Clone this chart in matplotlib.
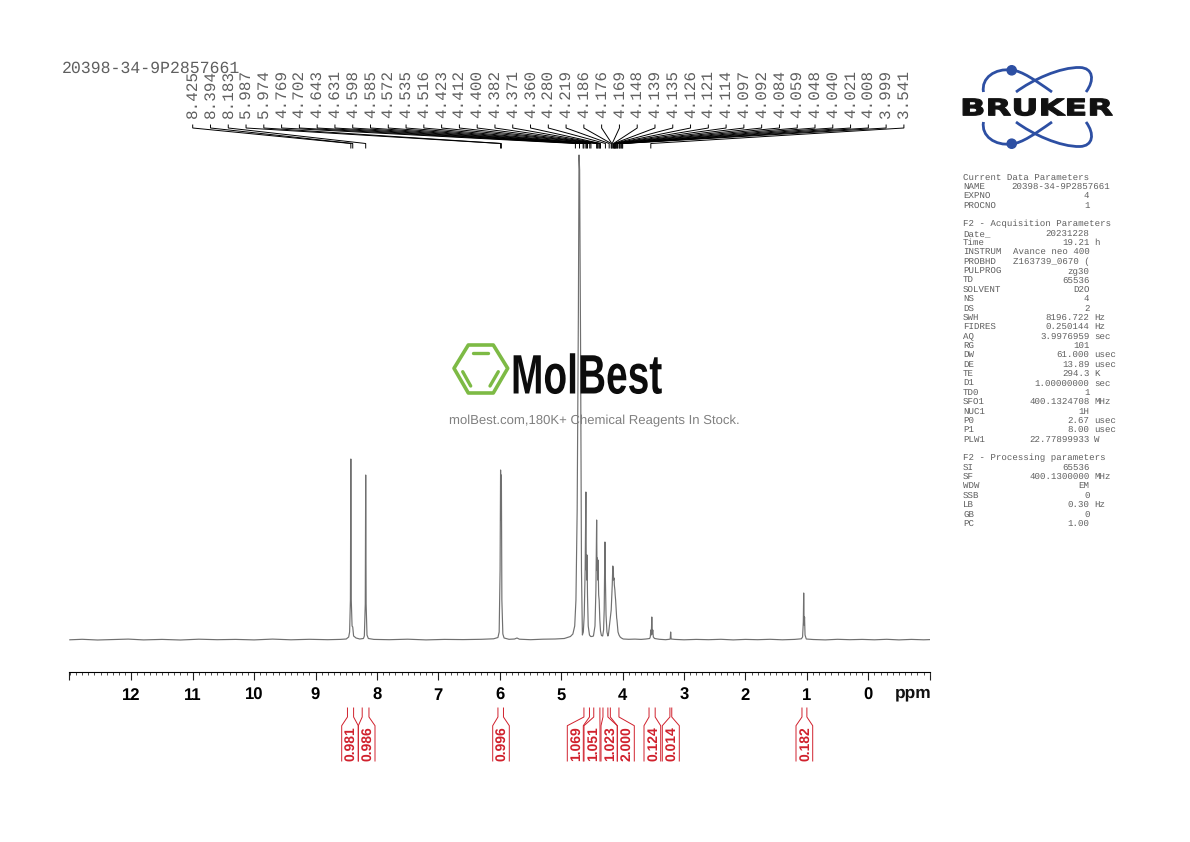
#!/usr/bin/env python3
# 1H NMR spectrum page (TopSpin style) with peak picking, integrals and parameter block
import matplotlib
matplotlib.use("Agg")
import matplotlib.pyplot as plt
from matplotlib.patches import Circle, PathPatch, Polygon
from matplotlib.path import Path
from matplotlib.patheffects import AbstractPathEffect
from matplotlib.ticker import MultipleLocator
from matplotlib.transforms import Affine2D

plt.rcParams["text.hinting"] = "no_hinting"

sample_name = "20398-34-9P2857661"

# spectrum trace: ppm and height above baseline
trace_ppm = [13.0, 12.8, 12.55, 12.3, 12.05, 11.8, 11.5, 11.2, 10.9, 10.6, 10.3, 10.0, 9.7, 9.4, 9.1, 8.8, 8.6,
             8.5, 8.46, 8.445, 8.432, 8.425, 8.418, 8.405, 8.394, 8.38, 8.34, 8.28, 8.22, 8.205, 8.19, 8.183, 8.176, 8.162, 8.14,
             8.05, 7.8, 7.5, 7.2, 6.9, 6.6, 6.3, 6.1,
             6.03, 6.01, 5.995, 5.987, 5.981, 5.974, 5.966, 5.95, 5.93,
             5.85, 5.76, 5.72, 5.68, 5.5, 5.3, 5.1, 4.95, 4.85, 4.81, 4.78, 4.76, 4.74, 4.72, 4.71, 4.70, 4.685,
             4.67, 4.655, 4.64, 4.625, 4.61, 4.598, 4.592, 4.588, 4.585, 4.579, 4.572, 4.56, 4.54, 4.52, 4.50, 4.475, 4.45,
             4.435, 4.423, 4.417, 4.412, 4.406, 4.40, 4.39, 4.382, 4.371, 4.36, 4.345, 4.325, 4.31, 4.30, 4.295, 4.288,
             4.28, 4.27, 4.255, 4.24, 4.23, 4.219, 4.205, 4.195, 4.186, 4.176, 4.169, 4.16, 4.15, 4.148, 4.139, 4.135,
             4.126, 4.121, 4.114, 4.097, 4.092, 4.084, 4.075, 4.059, 4.04, 4.02, 3.99, 3.9, 3.8, 3.7, 3.62, 3.56,
             3.55, 3.541, 3.533, 3.525, 3.517, 3.509, 3.5, 3.48, 3.4, 3.3, 3.24, 3.225, 3.218, 3.21, 3.15, 3.0, 2.8, 2.6, 2.4, 2.2,
             2.0, 1.8, 1.6, 1.4, 1.2, 1.09, 1.07, 1.058, 1.052, 1.045, 1.038, 1.03, 1.01, 0.9, 0.7, 0.5, 0.3, 0.1,
             -0.1, -0.3, -0.5, -0.7, -0.9, -1.0]
trace_int = [0.2, 0.7, 0.0, 0.5, 0.9, 0.1, 0.6, 0.0, 0.8, 0.3, 0.6, 0.1, 0.9, 0.2, 0.7, 0.3, 0.6,
             1.0, 3, 8, 40, 181, 40, 14, 13, 4, 2.0, 1.0, 1.5, 4, 36, 165, 36, 5, 1.5,
             0.6, 0.3, 0.8, 0.1, 0.6, 0.4, 0.7, 1.2,
             2.5, 8, 70, 170, 120, 165, 40, 6, 2,
             0.7, 1.0, 2.0, 0.8, 0.3, 0.8, 1.0, 1.5, 3.5, 6, 14, 40, 130, 330, 485, 470, 300,
             70, 5, 8, 25, 70, 148, 70, 85, 60, 85, 45, 14, 5, 3.5, 3.5, 4, 14,
             50, 120, 70, 82, 60, 80, 45, 40, 20, 9, 4.5, 4, 10, 30, 55, 98,
             60, 25, 8, 4, 6, 12, 20, 25, 30, 45, 55, 74, 70, 60, 62, 55,
             50, 45, 40, 22, 20, 14, 8, 5, 3, 2, 1.0, 0.7, 0.9, 0.6, 1.0, 1.5,
             3, 10, 5, 23, 6, 10, 3, 1.5, 0.7, 0.3, 0.7, 1.0, 8, 1.0, 0.6, 0.2, 0.6, 0.3, 0.7, 0.1,
             0.6, 0.3, 0.7, 0.2, 0.6, 1.2, 3, 18, 47, 15, 23, 5, 1.0, 0.5, 0.1, 0.7, 0.3, 0.6,
             0.2, 0.7, 0.1, 0.6, 0.2, 0.4]

peak_labels = ["8.425", "8.394", "8.183", "5.987", "5.974", "4.769", "4.702", "4.643", "4.631", "4.598", "4.585",
               "4.572", "4.535", "4.516", "4.423", "4.412", "4.400", "4.382", "4.371", "4.360", "4.280", "4.219",
               "4.186", "4.176", "4.169", "4.148", "4.139", "4.135", "4.126", "4.121", "4.114", "4.097", "4.092",
               "4.084", "4.059", "4.048", "4.040", "4.021", "4.008", "3.999", "3.541"]

integral_labels = ["0.981", "0.986", "0.996", "1.069", "1.051", "1.023", "2.000", "0.124", "0.014", "0.182"]
integral_start = [8.48, 8.24, 6.03, 4.63, 4.47, 4.32, 4.20, 3.57, 3.23, 1.08]
integral_end = [8.38, 8.13, 5.94, 4.54, 4.37, 4.24, 4.06, 3.47, 3.20, 1.00]

tick_ppm = [12, 11, 10, 9, 8, 7, 6, 5, 4, 3, 2, 1, 0]

param_keys = ["Current Data Parameters", "NAME", "EXPNO", "PROCNO", "",
              "F2 - Acquisition Parameters", "Date_", "Time", "INSTRUM", "PROBHD", "PULPROG", "TD", "SOLVENT", "NS",
              "DS", "SWH", "FIDRES", "AQ", "RG", "DW", "DE", "TE", "D1", "TD0", "SFO1", "NUC1", "P0", "P1", "PLW1", "",
              "F2 - Processing parameters", "SI", "SF", "WDW", "SSB", "LB", "GB", "PC"]
param_values = ["", sample_name, "4", "1", "",
                "", "20231228", "19.21", "Avance neo 400", "Z163739_0670 (", "zg30", "65536", "D2O", "4",
                "2", "8196.722", "0.250144", "3.9976959", "101", "61.000", "13.89", "294.3", "1.00000000", "1",
                "400.1324708", "1H", "2.67", "8.00", "22.77899933", "",
                "", "65536", "400.1300000", "EM", "0", "0.30", "0", "1.00"]
param_units = ["", "", "", "", "",
               "", "", "h", "", "", "", "", "", "",
               "", "Hz", "Hz", "sec", "", "usec", "usec", "K", "sec", "",
               "MHz", "", "usec", "usec", "W", "",
               "", "", "MHz", "", "", "Hz", "", ""]

W, H = 1190, 842
PX0, PX_PER_PPM = 868.3, 61.42
GRAY = "#5f5f5f"
RED = "#d0202c"
BLUE = "#2d4fa3"
GREEN = "#7dba45"


def ppm_x(p):
    return PX0 - PX_PER_PPM * p


class Stretch(AbstractPathEffect):
    # logo lettering: same glyphs, other width, optional outline to fatten them
    def __init__(self, sx, stroke=0.0):
        super().__init__()
        self.sx = sx
        self.stroke = stroke

    def draw_path(self, renderer, gc, tpath, affine, rgbFace=None):
        gc0 = renderer.new_gc()
        gc0.copy_properties(gc)
        gc0.set_linewidth(self.stroke)
        gc0.set_foreground(rgbFace)
        renderer.draw_path(gc0, tpath, Affine2D().scale(self.sx, 1) + affine, rgbFace)
        gc0.restore()


fig = plt.figure(figsize=(W / 100, H / 100), dpi=100)

# spectrum axes, spine is the ppm scale
ax = fig.add_axes([69 / W, (H - 672) / H, 861 / W, 522 / H])
ax.plot(trace_ppm, trace_int, color="#707070", lw=0.85, solid_joinstyle="round")
ax.set_xlim((PX0 - 69) / PX_PER_PPM, (PX0 - 930) / PX_PER_PPM)
ax.set_ylim(-32, 490)
ax.patch.set_alpha(0)
for side in ["top", "left", "right"]:
    ax.spines[side].set_visible(False)
ax.spines["bottom"].set_linewidth(0.8)
ax.yaxis.set_visible(False)
ends = list(ax.get_xlim())
ax.set_xticks(tick_ppm + ends)
ax.set_xticklabels([str(t) for t in tick_ppm] + ["", ""], fontfamily="Liberation Sans", fontweight="bold", fontsize=12)
ax.xaxis.set_minor_locator(MultipleLocator(0.1))
ax.tick_params(axis="x", which="major", length=5.8, width=0.8, pad=5.2, color="#222222")
ax.tick_params(axis="x", which="minor", length=2.2, width=0.6, color="#333333")

# everything else is laid out in page pixels
ov = fig.add_axes([0, 0, 1, 1])
ov.set_xlim(0, W)
ov.set_ylim(H, 0)
ov.axis("off")
ov.patch.set_alpha(0)

ov.text(913, 693.5, "ppm", ha="center", va="center", fontfamily="Liberation Sans", fontweight="bold", fontsize=12.5,
        color="#111111")
ov.text(62, 68, sample_name, ha="left", va="center", fontfamily="Liberation Mono", fontsize=11.9, color=GRAY)

# peak picking labels and leaders
for i, lab in enumerate(peak_labels):
    lx = 192.7 + i * 17.78
    px = ppm_x(float(lab))
    ov.text(lx, 118.5, lab, rotation=90, ha="center", va="bottom", fontfamily="Liberation Mono", fontsize=11.5,
            color=GRAY)
    ov.plot([lx, lx, px, px], [125, 128, 143.5, 148], color="black", lw=0.7, solid_joinstyle="miter")

# integrals
box_left = [341.7, 358.3, 492.7, 567.3, 584, 601, 617.3, 644, 662.3, 796]
box_right = [358.3, 375, 509.3, 583.3, 600, 617.3, 634.3, 660.7, 679.3, 812.7]
for lab, a, b, l, r in zip(integral_labels, integral_start, integral_end, box_left, box_right):
    xa, xb = ppm_x(a), ppm_x(b)
    ov.plot([xa, xa, l, l], [708, 717, 725.7, 761], color=RED, lw=0.7)
    ov.plot([xb, xb, r, r], [708, 717, 725.7, 761], color=RED, lw=0.7)
    ov.text((l + r) / 2 + 1, 761, lab, rotation=90, ha="center", va="bottom", fontfamily="Liberation Sans",
            fontweight="bold", fontsize=10, color=RED)

# acquisition parameters
for i, (k, v, u) in enumerate(zip(param_keys, param_values, param_units)):
    y = 177.2 + i * 9.36
    ov.text(963, y, k, ha="left", va="center", fontfamily="Liberation Mono", fontsize=6.55, color=GRAY)
    vx = 1110.5 if k == "NAME" else 1089.5
    ov.text(vx, y, v, ha="right", va="center", fontfamily="Liberation Mono", fontsize=6.55, color=GRAY)
    ov.text(1094, y, u, ha="left", va="center", fontfamily="Liberation Mono", fontsize=6.55, color=GRAY)

# Bruker logo, four orbit arcs mirrored about the word
MID = 214
c4 = [Path.MOVETO, Path.CURVE4, Path.CURVE4, Path.CURVE4, Path.CURVE4, Path.CURVE4, Path.CURVE4]
arc_a = [(983.5, 92), (981, 78), (995, 68), (1011.7, 70), (1022, 71), (1035, 80), (1052, 92)]
arc_b = [(1016, 92), (1032, 80), (1060, 67), (1080, 67.5), (1093, 68), (1095, 80), (1086, 92)]
for arc in [arc_a, arc_b]:
    ov.add_patch(PathPatch(Path(arc, c4), fill=False, edgecolor=BLUE, lw=2.0))
    ov.add_patch(PathPatch(Path([(x, MID - y) for x, y in arc], c4), fill=False, edgecolor=BLUE, lw=2.0))
ov.add_patch(Circle((1011.7, 70.3), 4.6, color=BLUE, zorder=3))
ov.add_patch(Circle((1011.7, MID - 70.3), 4.6, color=BLUE, zorder=3))
ov.text(960, 115.3, "BRUKER", ha="left", va="baseline", fontfamily="DejaVu Sans", fontweight="bold", fontsize=16.4,
        color="#111111", zorder=4, path_effects=[Stretch(1.47, 0.8)])

# MolBest logo and watermark line
ov.add_patch(Polygon([(454, 368.3), (468.3, 345), (493.3, 345), (507.7, 368.3), (493.3, 393), (468.3, 393)],
                     closed=True, fill=False, edgecolor=GREEN, lw=2.6, joinstyle="round"))
for xs, ys in [([473.3, 488.3], [352.7, 352.7]), ([462.7, 470.7], [371.7, 386]), ([498.3, 490], [371.7, 386])]:
    ov.plot(xs, ys, color=GREEN, lw=2.4, solid_capstyle="round")
ov.text(511, 393.5, "MolBest", ha="left", va="baseline", fontfamily="Liberation Sans", fontweight="bold", fontsize=40,
        color="#0c0c0c", path_effects=[Stretch(0.70)])
ov.text(594, 421, "molBest.com,180K+ Chemical Reagents In Stock.", ha="center", va="center",
        fontfamily="Liberation Sans", fontsize=9.47, color="#808080")

fig.savefig("out.png", dpi=100)
